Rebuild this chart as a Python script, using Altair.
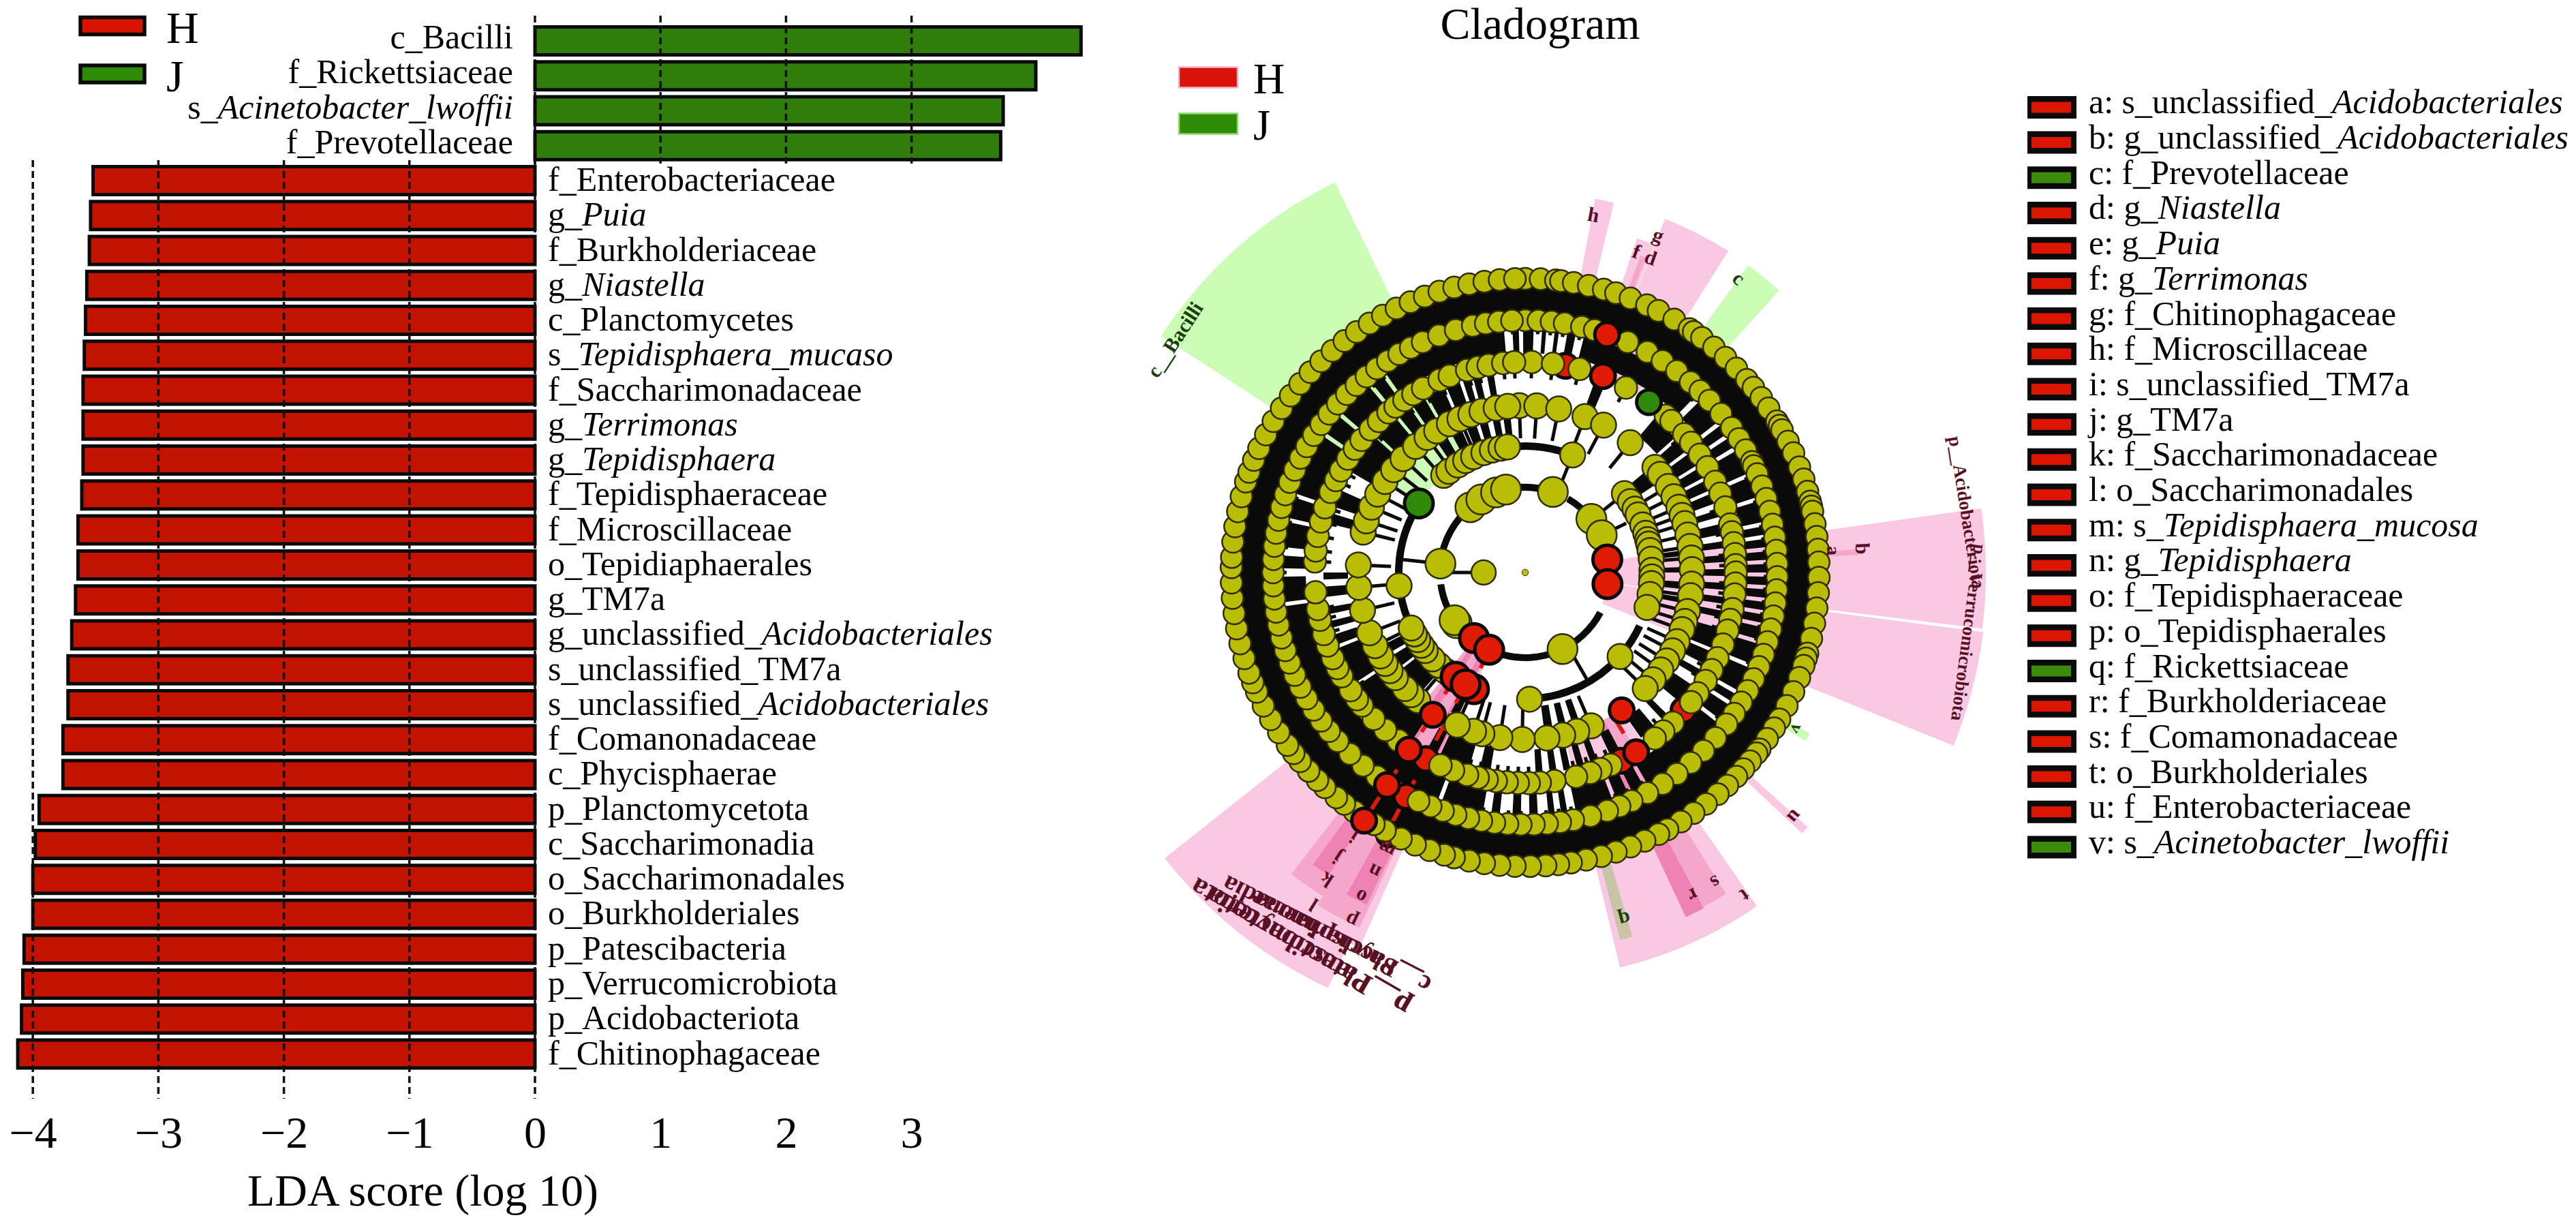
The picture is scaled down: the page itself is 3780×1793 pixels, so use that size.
import math
import altair as alt
import pandas as pd

# ---------- LDA bars ----------
bar_labels = ["c_Bacilli","f_Rickettsiaceae","s_Acinetobacter_lwoffii","f_Prevotellaceae",
 "f_Enterobacteriaceae","g_Puia","f_Burkholderiaceae","g_Niastella","c_Planctomycetes","s_Tepidisphaera_mucaso",
 "f_Saccharimonadaceae","g_Terrimonas","g_Tepidisphaera","f_Tepidisphaeraceae","f_Microscillaceae","o_Tepidiaphaerales",
 "g_TM7a","g_unclassified_Acidobacteriales","s_unclassified_TM7a","s_unclassified_Acidobacteriales","f_Comanonadaceae",
 "c_Phycisphaerae","p_Planctomycetota","c_Saccharimonadia","o_Saccharimonadales","o_Burkholderiales","p_Patescibacteria",
 "p_Verrucomicrobiota","p_Acidobacteriota","f_Chitinophagaceae"]
bar_prefix = ["c_Bacilli","f_Rickettsiaceae","s_","f_Prevotellaceae","f_Enterobacteriaceae","g_","f_Burkholderiaceae","g_",
 "c_Planctomycetes","s_","f_Saccharimonadaceae","g_","g_","f_Tepidisphaeraceae","f_Microscillaceae","o_Tepidiaphaerales",
 "g_TM7a","g_unclassified_","s_unclassified_TM7a","s_unclassified_","f_Comanonadaceae","c_Phycisphaerae","p_Planctomycetota",
 "c_Saccharimonadia","o_Saccharimonadales","o_Burkholderiales","p_Patescibacteria","p_Verrucomicrobiota","p_Acidobacteriota",
 "f_Chitinophagaceae"]
bar_italic = ["","","Acinetobacter_lwoffii","","","Puia","","Niastella","","Tepidisphaera_mucaso","","Terrimonas","Tepidisphaera",
 "","","","","Acidobacteriales","","Acidobacteriales","","","","","","","","","",""]
bar_scores = [4.35,3.99,3.73,3.71,-3.52,-3.54,-3.55,-3.57,-3.58,-3.59,-3.60,-3.60,-3.60,-3.61,-3.64,-3.64,-3.66,-3.69,-3.72,-3.72,
 -3.76,-3.76,-3.95,-3.98,-4.0,-4.0,-4.07,-4.08,-4.09,-4.12]
bar_group = ["J"]*4 + ["H"]*26

# ---------- keyed legend ----------
key_prefix = ["a: s_unclassified_","b: g_unclassified_","c: f_Prevotellaceae","d: g_","e: g_","f: g_","g: f_Chitinophagaceae",
 "h: f_Microscillaceae","i: s_unclassified_TM7a","j: g_TM7a","k: f_Saccharimonadaceae","l: o_Saccharimonadales","m: s_","n: g_",
 "o: f_Tepidisphaeraceae","p: o_Tepidisphaerales","q: f_Rickettsiaceae","r: f_Burkholderiaceae","s: f_Comamonadaceae",
 "t: o_Burkholderiales","u: f_Enterobacteriaceae","v: s_"]
key_italic = ["Acidobacteriales","Acidobacteriales","","Niastella","Puia","Terrimonas","","","","","","","Tepidisphaera_mucosa",
 "Tepidisphaera","","","","","","","","Acinetobacter_lwoffii"]
key_group = ["H","H","J","H","H","H","H","H","H","H","H","H","H","H","H","H","J","H","H","H","H","J"]

# ---------- cladogram nodes: clockwise degrees from the top, per ring ----------
ring1 = [0,3,6,7,9.5,12.5,15.5,18,21,24.5,27,30.5,34,35,37,40,43,46,49,51,53.5,56,59,60,61,63.5,66,69,71.5,74,76,77,78,80.5,83,85.5,88,91,94,97,
 100,103,106,107,108.5,111,114,117,120,122,124.5,127,128,130,132,134,136.5,139,142,145,148,151,153,156,159,162,165,168,171,173.5,176,179,182,
 185,188,191,194,196,199,202,205,208.5,211,215.5,218,220,223,225,227.5,230,232,234,237,240,243,246,248,250,253,256,259,262,265,268,
 271,273,276,279,282,285,288,290,292.5,295,298,301,304,307,310,313,316,319,322,325,328,331,334,337,340,343,346,349,352,355,358]
ring2 = [0,3,6,9,13,16,24,29,33,37,41,44,47,51,55,58,61,64,65,67,70,73,76,79,82,85,88,91,94,97,100,103,106,109,112,115,118,121,124,127,
 131,135,139,143,147,151,155,158,161,165,169,172,175,178,181,184,187,190,193,196,199,202,205,216,220,224,228,231,234,237,240,243,246,
 249,252,255,258,261,264,267,270,273,276,279,282,285,288,291,294,297,300,303,306,309,312,315,318,321,324,327,330,333,336,340,344,348,
 351,354,357]
ring3 = [1.8,7.6,15,28.6,41.9,44,49,52,56,60,64.5,68,72,76.8,79,82,85,88,90,93,96,100,103,106,110,114,117.6,121,125,128,135.5,139,142,156,159,
 162,166,172,176,179,182,185,188,190.5,193,196,200,203.7,217,221.6,226,230.8,233,236,240.5,243,246,249.7,253,257,260,264.6,273,276,280,284,288,
 292.5,296,299,302.7,306,309,312.8,316,319.5,322,325,327.9,331,336,339,344,347,350,354,357]
ring4 = [358,4,11.6,21,28,39,51,54,59,63,67,70,73,77,81,85,89,94,98,103.5,107,110,114.5,118,122,125.7,130,134,156.7,162,167,172.5,181,188.7,
 195,198,204,220,223,226,231,234,237,240,244,248.8,256.9,264.9,272.6,284,288,293,298,303,308,313,319,324,328,333,337,341,345,350,354]
ring5 = [22,51.5,56,60,63,68,72,75,77,80,84,89,92,95,100,106,131.5,178,216,219,223,227,232,235,238,241,244,264,320,323,328,332,336,341,345,349,352]
ring6 = [19,51,64,154,233.5,236,276,320,329,340,347]
ring7 = [270]
# highlighted nodes: ring radius, degrees, class, drawn above the yellow nodes or not
hi_radius = [369,309,310,309,186,122,122,122,125,184,187,186,249,311,310,372,372,434,433,247,310,310,308]
hi_angle = [19,11,21.6,36,303,81,98,218,205,213.7,203.7,208,213,213.3,208,213,208,213,207.5,145,148.3,153,131]
hi_group = ["H","H","H","J","J","H","H","H","H","H","H","H","H","H","H","H","H","H","H","H","H","H","H"]
hi_above = [1,0,1,1,1,1,1,1,1,1,1,1,1,1,0,1,0,1,0,1,1,0,0]

# dark annular bands between rings, as start/end degree pairs
band_solid = [(0,360)]
band_a = [(14,44),(45.5,52),(53,55.5),(56.5,59),(60,66),(67,72),(73,78),(79,81),(82,84),(85,87),(88,90),(91,93),(94,96),(97,99),(100,102),(103,106),
 (107,112),(113,119),(120,122),(123,127),(128,150),(151,154),(155,158),(159,168),(170,171.5),(173,174.5),(177,179),(181,183),(186,188),(190,200),
 (201,262),(263,269),(271,274),(276,282),(283,288),(289,304),(305,310),(311,320),(321,324),(325,355),(357,358.5),(-0.5,2),(4,5),(7,8),(10,12)]
band_b = [(300,312),(313,320),(321,325),(326,330),(331,336),(337,341),(342,344),(345,347),(349,351),(20,23),(40,48),(49,53),(54,58),(59,62),(63,66),
 (67,70),(72,74),(76,79),(81,83),(85,87),(89,91),(93,95),(97,99),(101,103),(106,112),(113,117),(119,121),(124,130),(135,137),(140,145),(152,155),
 (159,161),(163,165),(167,169),(171,173),(175,177),(190,193),(196,205),(206,209),(214,236),(237,248),(249,252),(254,256),(258,260),(263,266),(268,270),
 (284,287),(289,294)]
band_c = [(326,330),(332,336),(338,341),(343,346),(348,350),(352,354),(50,56),(205,208),(221,232),(233,238),(240,243),(82,84),(88,90),(94,96),(99,101),
 (160,162),(165,167),(170,172)]
arc_125 = [(245,262),(276,322),(345,379),(30,51),(118,196)]
arc_186 = [(241,303),(350,381),(132,176),(115,131)]
inner_spoke_angle = [22,51.5,64,150,276,270]
inner_spoke_from = [125,125,125,125,125,61]
inner_spoke_to = [186,186,165,186,186,125]
# thin red connectors of the highlighted clades
red_angle = [213,208,213.5,208,148.5,205]
red_from = [249,249,184,187,247,125]
red_to = [434,433,250,250,310,187]

# coloured sectors: start, end, inner, outer radius, colour
PINK, MID, DEEP, GREEN = "#f9c8e2", "#f5a6cb", "#ee82b2", "#ccfdb6"
sectors = [
 (303,334,186,637,GREEN),(36,42,309,557,GREEN),(119.5,121,400,480,GREEN),
 (10.6,13.5,400,558,PINK),(21.6,32.3,310,558,PINK),(18.5,21.5,309,517,PINK),(20,21,309,495,MID),
 (82,97,122,676,PINK),(97.4,112,122,678,PINK),(85.5,87.5,380,519,PINK),(86,87,380,490,MID),
 (145.2,166.5,245,596,PINK),(148,155,245,556,MID),(152,155,245,558,DEEP),(163.6,165.5,430,557,"#c9c4a8"),
 (132,133.3,330,558,PINK),
 (205.4,231.6,400,675,PINK),(203.8,218,122,602,PINK),(212,217.8,122,560,MID),(213,216,122,530,DEEP),(205,212,122,575,MID),
 (205.5,209,122,540,DEEP),
]
# clade labels: text, x, y, rotation, size, colour
MAROON, FOREST = "#5a1024", "#17400c"
clade_text = ["c__Bacilli","p__Acidobacteriota","p__Verrucomicrobiota","p__Planctomycetota","p__Patescibacteria","c__Saccharimonadia","c__Phycisphaerae",
 "h","g","d","f","c","b","a","u","v","q","t","s","r","l","k","j","i","p","o","n","m"]
clade_x = [1725,2885,2888,1908,1920,1947,1968,2338,2433,2422,2401,2551,2732,2689,2633,2636,2384,2560,2517,2484,1928,1947,1963,1987,1983,1997,2017,2035]
clade_y = [499,752,928,1389,1395.5,1370,1381,316,346,379,370,409,805,808,1198,1069,1348,1313,1294,1313,1327,1290,1258,1227,1350,1315,1278,1245]
clade_rot = [303,81,97.5,210,210,207,207,10,21,20,20,40,88,88,130,120,165,145,150,154,212,213,213,213,206,206,206,206]
clade_size = [30,27,27,42,42,38,38,30,30,30,30,30,30,28,30,26,30,30,30,30,30,30,30,30,30,30,30,30]
clade_col = [FOREST,MAROON,MAROON,MAROON,MAROON,MAROON,MAROON]+[MAROON]*4+[FOREST]+[MAROON]*3+[FOREST,FOREST]+[MAROON]*11

# ---------- page geometry ----------
W, H, M = 3764, 1777, 8
CX, CY = 2238 - M, 840 - M
ZERO, UNIT = 785 - M, 184.2
SERIF = "Liberation Serif"
RED, GRN = "#c41200", "#2f7d0a"

REG = dict(zip("abcdefghijklmnopqrstuvwxyzABCDEFGHIJKLMNOPQRSTUVWXYZ_: 0123456789",
 [.444,.5,.444,.5,.444,.333,.5,.5,.278,.278,.5,.278,.778,.5,.5,.5,.5,.333,.389,.278,.5,.5,.722,.5,.5,.444,
  .722,.667,.667,.722,.611,.556,.722,.722,.333,.389,.722,.611,.889,.722,.722,.556,.722,.667,.556,.611,.722,.722,.944,.722,.722,.611,
  .5,.278,.25]+[.5]*10))
ITA = dict(zip("abcdefghijklmnopqrstuvwxyzABCDEFGHIJKLMNOPQRSTUVWXYZ_",
 [.5,.5,.444,.5,.444,.278,.5,.5,.278,.278,.444,.278,.722,.5,.5,.5,.5,.389,.389,.278,.5,.444,.667,.444,.444,.389,
  .611,.611,.667,.722,.611,.611,.722,.722,.333,.444,.667,.556,.833,.667,.722,.611,.722,.611,.5,.556,.722,.611,.833,.611,.556,.556,.5]))
def tw(s, table, size):
    return sum(table.get(c, .45) for c in s) * size

XS = alt.Scale(domain=[-ZERO/UNIT, (W-ZERO)/UNIT], range=[0, W], nice=False, zero=False)
first_c, last_c = 60, 1546.5
step = (last_c-first_c)/29
YS = alt.Scale(domain=bar_labels, range=[first_c-M-step/2, last_c-M+step/2], paddingInner=.2, paddingOuter=.1)
PX = alt.X("x:Q", scale=None, axis=None)
PY = alt.Y("y:Q", scale=None, axis=None)

AXIS_Y = 1631
bars_df = pd.DataFrame({"label":bar_labels,"score":bar_scores,"fill":[GRN if g=="J" else RED for g in bar_group]})
bars = alt.Chart(bars_df).mark_bar(stroke="#0a0a0a", strokeWidth=5).encode(
    x=alt.X("score:Q", scale=XS, axis=alt.Axis(values=[-4,-3,-2,-1,0,1,2,3], grid=False, domain=False, ticks=False, orient="bottom",
        offset=-(H-(AXIS_Y-M)), labelFont=SERIF, labelFontSize=66, labelColor="black", labelPadding=0, labelOverlap=False, labelFlush=False,
        title="LDA score (log 10)", titleFont=SERIF, titleFontSize=66, titleFontWeight="normal", titleColor="black", titleX=620-M, titleY=137,
        titleBaseline="alphabetic", titleAlign="center")),
    y=alt.Y("label:N", scale=YS, axis=None),
    color=alt.Color("fill:N", scale=None))

def grid(vals, y0, y1):
    return alt.Chart(pd.DataFrame({"v":vals})).mark_rule(color="#111", strokeWidth=3.5, strokeDash=[10,6]).encode(
        x=alt.X("v:Q", scale=XS, axis=None), y=alt.value(y0-M), y2=alt.value(y1-M))
grid_top = grid([0,1,2,3], 23, 240)
grid_low = grid([-4,-3,-2,-1,0], 235, 1612)

def text_layer(df, size, scale, **kw):
    return alt.Chart(df).mark_text(font=SERIF, fontSize=size, color="black", baseline="alphabetic", align="left", **kw).encode(
        x=PX, y=alt.Y("row:N", scale=scale, axis=None), text="t:N")

rows = {(0,"p"):[],(0,"i"):[],(1,"p"):[],(1,"i"):[]}
for lab, s, pre, ita in zip(bar_labels, bar_scores, bar_prefix, bar_italic):
    w_p, w_i = tw(pre, REG, 50), tw(ita, ITA, 50)
    side = 0 if s > 0 else 1
    x0 = (753 - M - w_p - w_i) if s > 0 else (804 - M)
    rows[(side,"p")].append({"row":lab,"t":pre,"x":x0})
    if ita:
        rows[(side,"i")].append({"row":lab,"t":ita,"x":x0+w_p})
bar_texts = [
 text_layer(pd.DataFrame(rows[(0,"p")]), 50, YS, dy=11),
 text_layer(pd.DataFrame(rows[(0,"i")]), 50, YS, dy=11, fontStyle="italic"),
 text_layer(pd.DataFrame(rows[(1,"p")]), 50, YS, dy=15),
 text_layer(pd.DataFrame(rows[(1,"i")]), 50, YS, dy=15, fontStyle="italic"),
]

# small two-entry legends
def mini_legend(c1, c2, x0, x1, tx, hgt, fills, strokes, sw, size, dy):
    step_ = c2-c1
    pi = 1-hgt/step_
    sc = alt.Scale(domain=["H","J"], range=[c1-M-step_/2, c2-M+step_/2], paddingInner=pi, paddingOuter=pi/2)
    d = pd.DataFrame({"k":["H","J"],"fill":fills,"st":strokes})
    rect = alt.Chart(d).mark_rect(strokeWidth=sw).encode(x=alt.value(x0-M), x2=alt.value(x1-M),
        y=alt.Y("k:N", scale=sc, axis=None), color=alt.Color("fill:N", scale=None), stroke=alt.Stroke("st:N", scale=None))
    txt = alt.Chart(d).mark_text(font=SERIF, fontSize=size, color="black", align="left", baseline="alphabetic", dy=dy, x=tx-M).encode(
        y=alt.Y("k:N", scale=sc, axis=None), text="k:N")
    return [rect, txt]
legend_left = mini_legend(38, 108.5, 118, 212, 244, 25, ["#d81400","#2f8a06"], ["#0a0a0a","#0a0a0a"], 5.5, 66, 25)
legend_mid = mini_legend(113.5, 181.5, 1730, 1816, 1839, 30, ["#d8140a","#2f8a06"], ["#f8b0c8","#8ed96f"], 2.5, 64, 23.5)

title = alt.Chart(pd.DataFrame({"t":["Cladogram"],"x":[2260-M],"y":[57-M]})).mark_text(font=SERIF, fontSize=66, color="black", align="center", baseline="alphabetic").encode(x=PX, y=PY, text="t:N")

# keyed legend
K_FIRST, K_LAST = 157.4, 1243
kstep = (K_LAST-K_FIRST)/21
def kscale(h):
    pi = 1-h/kstep
    return alt.Scale(domain=key_prefix, range=[K_FIRST-M-kstep/2, K_LAST-M+kstep/2], paddingInner=pi, paddingOuter=pi/2)
kd = pd.DataFrame({"k":key_prefix,"fill":["#dc1500" if g=="H" else "#3a8c0a" for g in key_group]})
k_outer = alt.Chart(kd).mark_rect(color="#0a0a0a").encode(x=alt.value(2975-M), x2=alt.value(3047-M), y=alt.Y("k:N", scale=kscale(33), axis=None))
k_inner = alt.Chart(kd).mark_rect().encode(x=alt.value(2981-M), x2=alt.value(3039-M), y=alt.Y("k:N", scale=kscale(16), axis=None), color=alt.Color("fill:N", scale=None))
KS = kscale(33)
KF = 50
kp = pd.DataFrame({"row":key_prefix,"t":key_prefix,"x":[3065-M]*22})
ki = pd.DataFrame([{"row":p,"t":i,"x":3065-M+tw(p,REG,KF)} for p,i in zip(key_prefix,key_italic) if i])
k_text = text_layer(kp, KF, KS, dy=9)
k_text_i = text_layer(ki, KF, KS, dy=9, fontStyle="italic")

# cladogram pieces
def arc_df(pairs, r0, r1, fill="#0a0a0a"):
    return pd.DataFrame({"t0":[math.radians(a) for a,b in pairs],"t1":[math.radians(b) for a,b in pairs],"r0":[r0]*len(pairs),"r1":[r1]*len(pairs),"fill":[fill]*len(pairs)})
def arc_layer(df):
    return alt.Chart(df).mark_arc(x=CX, y=CY, opacity=1).encode(
        theta=alt.Theta("t0:Q", scale=None, stack=None), theta2="t1:Q",
        radius=alt.Radius("r1:Q", scale=None), radius2="r0:Q", color=alt.Color("fill:N", scale=None))
sec_df = pd.DataFrame({"t0":[math.radians(s[0]) for s in sectors],"t1":[math.radians(s[1]) for s in sectors],
    "r0":[s[2] for s in sectors],"r1":[s[3] for s in sectors],"fill":[s[4] for s in sectors]})
sec_layer = arc_layer(sec_df)
bands = pd.concat([arc_df(band_solid,375,420), arc_df(band_a,322,358), arc_df(band_b,260,296), arc_df(band_c,197,232),
                   arc_df(arc_125,120,130), arc_df(arc_186,180,191)])
band_layer = arc_layer(bands)

def polar(r, a):
    t = math.radians(a)
    return CX + r*math.sin(t), CY - r*math.cos(t)
def seg(a, r0, r1):
    x1,y1 = polar(r0,a); x2,y2 = polar(r1,a)
    return {"x":x1,"y":y1,"x2":x2,"y2":y2}
sp = []
for lst, r_out, r_in in [(ring1,432,410),(ring2,370,350),(ring3,309,285),(ring4,245,197)]:
    sp += [seg(a, r_out, r_in) for a in lst]
sp += [seg(a, r0, r1) for a,r0,r1 in zip(inner_spoke_angle, inner_spoke_from, inner_spoke_to)]
spokes = alt.Chart(pd.DataFrame(sp)).mark_rule(color="#0a0a0a", strokeWidth=5).encode(x=PX, y=PY, x2="x2:Q", y2="y2:Q")
red_lines = alt.Chart(pd.DataFrame([seg(a,r0,r1) for a,r0,r1 in zip(red_angle,red_from,red_to)])).mark_rule(
    color="#e01a0a", strokeWidth=6, strokeDash=[30,18]).encode(x=PX, y=PY, x2="x2:Q", y2="y2:Q")

node_rows = []
for lst, r, d in [(ring1,431,32),(ring2,370,32),(ring3,309,33),(ring4,245,37),(ring5,186,37),(ring6,125,44),(ring7,61,36)]:
    for a in lst:
        x,y = polar(r,a); node_rows.append({"x":x,"y":y,"s":d*d})
nodes = alt.Chart(pd.DataFrame(node_rows)).mark_circle(color="#b9bd05", stroke="#2f2c00", strokeWidth=2.5, opacity=1).encode(
    x=PX, y=PY, size=alt.Size("s:Q", scale=None))
hi_rows = []
for r,a,g,top in zip(hi_radius,hi_angle,hi_group,hi_above):
    x,y = polar(r,a)
    hi_rows.append({"x":x,"y":y,"fill":"#df1a05" if g=="H" else "#2f8a0c","s":(42 if r<200 else 36)**2,"top":top})
hi_df = pd.DataFrame(hi_rows)
def hi_layer(df):
    return alt.Chart(df).mark_circle(stroke="#0a0a0a", strokeWidth=5, opacity=1).encode(
        x=PX, y=PY, color=alt.Color("fill:N", scale=None), size=alt.Size("s:Q", scale=None))
hi_under = hi_layer(hi_df[hi_df.top==0])
hi_over = hi_layer(hi_df[hi_df.top==1])
center = alt.Chart(pd.DataFrame({"x":[CX],"y":[CY]})).mark_circle(color="#b9bd05", stroke="#2f2c00", strokeWidth=1, opacity=1, size=90).encode(x=PX, y=PY)

lab_df = pd.DataFrame({"t":clade_text,"x":[v-M for v in clade_x],"y":[v-M for v in clade_y],"rot":clade_rot,"sz":clade_size,"c":clade_col})
clade_labels = alt.Chart(lab_df).mark_text(font=SERIF, fontWeight="bold", align="center", baseline="middle").encode(
    x=PX, y=PY, text="t:N", angle=alt.Angle("rot:Q", scale=None), size=alt.Size("sz:Q", scale=None), color=alt.Color("c:N", scale=None))

chart = alt.layer(
    bars, grid_top, grid_low, *bar_texts, *legend_left, title, *legend_mid,
    sec_layer, band_layer, spokes, red_lines, hi_under, nodes, hi_over, center, clade_labels,
    k_outer, k_inner, k_text, k_text_i,
).resolve_scale(x="independent", y="independent").properties(
    width=W, height=H, padding=0, autosize=alt.AutoSizeParams(type="none"),
).configure_view(stroke=None)

chart.save("out.html", embed_options={"renderer": "svg", "actions": False})
